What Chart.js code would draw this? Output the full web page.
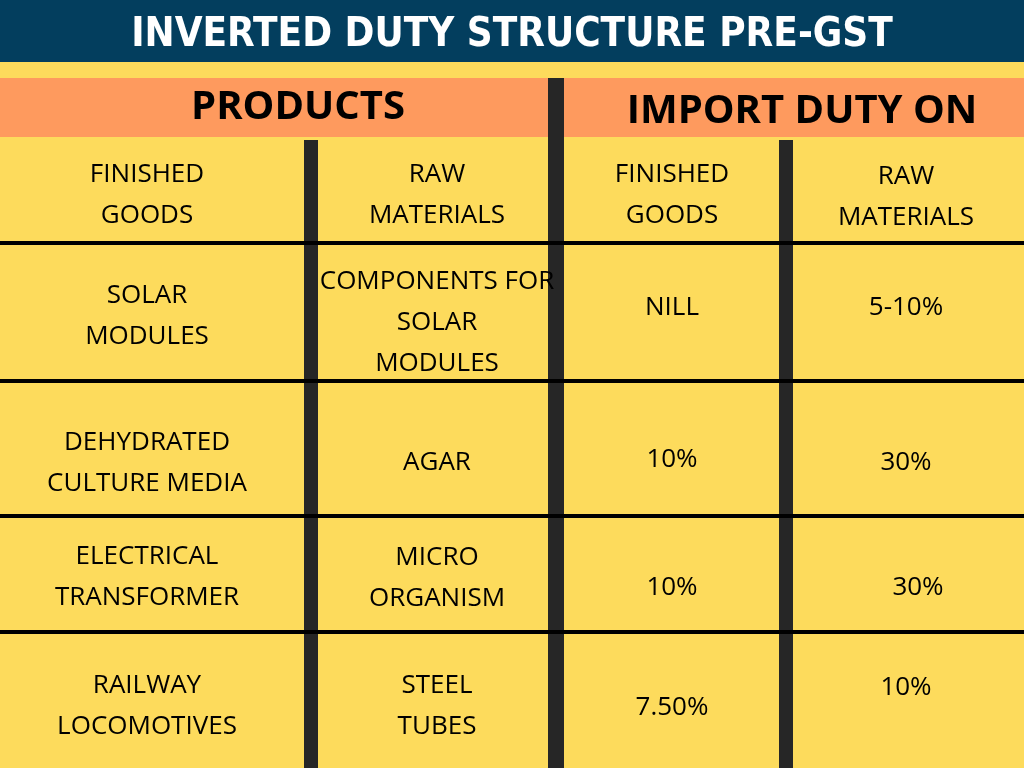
<!DOCTYPE html>
<html><head><meta charset="utf-8">
<script src="https://cdn.jsdelivr.net/npm/chart.js@4"></script>
<style>html,body{margin:0;padding:0;background:#FDDB5C}#w{width:1024px;height:768px}</style>
</head><body><div id="w"><canvas id="c"></canvas></div>
<script>
const title = "INVERTED DUTY STRUCTURE PRE-GST";
const groupHeaders = ["PRODUCTS", "IMPORT DUTY ON"];
const columnHeaders = [["FINISHED","GOODS"],["RAW","MATERIALS"],["FINISHED","GOODS"],["RAW","MATERIALS"]];
const finishedGoods = [["SOLAR","MODULES"],["DEHYDRATED","CULTURE MEDIA"],["ELECTRICAL","TRANSFORMER"],["RAILWAY","LOCOMOTIVES"]];
const rawMaterials = [["COMPONENTS FOR","SOLAR","MODULES"],["AGAR"],["MICRO","ORGANISM"],["STEEL","TUBES"]];
const dutyFinished = ["NILL","10%","10%","7.50%"];
const dutyRaw = ["5-10%","30%","30%","10%"];

// layout (pixel-space scale 0..1024 x 0..768)
const colEdges=[0,311,556,786,1024];
const rowEdges=[140,243,381,516,632,768];
const colCenters=[147,437,672,906];
const dutyY=[[308,308],[460,463],[588,588],[708,688]];

const tablePlugin={id:'tbl',beforeDraw(ch){
  const c=ch.ctx,X=ch.scales.x,Y=ch.scales.y;
  const px=v=>X.getPixelForValue(v), py=v=>Y.getPixelForValue(v);
  c.save();
  c.fillStyle='#FDDB5C';c.fillRect(0,0,ch.width,ch.height);
  c.fillStyle='#033E5E';c.fillRect(px(0),py(0),px(1024)-px(0),py(62)-py(0));
  c.fillStyle='#FE9A5E';c.fillRect(px(0),py(78),px(1024)-px(0),py(137)-py(78));
  // dividers
  c.fillStyle='#262626';
  c.fillRect(px(548),py(78),16,py(768)-py(78));
  c.fillRect(px(304),py(140),14,py(768)-py(140));
  c.fillRect(px(779),py(140),14,py(768)-py(140));
  c.fillStyle='#000';
  for(let i=1;i<5;i++)c.fillRect(px(0),py(rowEdges[i])-2,px(1024),4);
  c.textAlign='center';c.textBaseline='middle';
  c.fillStyle='#fff';c.font='bold 40px "DejaVu Sans Condensed", "Liberation Sans Narrow", sans-serif';
  c.fillText(title,px(512),py(36));
  c.fillStyle='#000';c.font='bold 40px "Open Sans"';
  c.fillText(groupHeaders[0],px(298),py(108));
  c.fillText(groupHeaders[1],px(802),py(112));
  c.font='26px "Open Sans"';
  const lines=(arr,x,yc)=>{const n=arr.length;arr.forEach((t,i)=>c.fillText(t,px(x),py(yc+(i-(n-1)/2)*41)));};
  columnHeaders.forEach((h,i)=>lines(h,colCenters[i],i==3?197:195));
  const rowMid=[316,463,577,706];
  finishedGoods.forEach((r,i)=>lines(r,colCenters[0],rowMid[i]));
  const rawMid=[323,463,578,706];
  rawMaterials.forEach((r,i)=>lines(r,colCenters[1],rawMid[i]));
  dutyFinished.forEach((t,i)=>c.fillText(t,px(colCenters[2]),py(dutyY[i][0])));
  dutyRaw.forEach((t,i)=>c.fillText(t,px(colCenters[3]+(i==2?12:0)),py(dutyY[i][1])));
  c.restore();
}};
new Chart(document.getElementById('c'),{type:'scatter',
 data:{datasets:[{data:[],pointRadius:0}]},
 options:{responsive:true,maintainAspectRatio:false,animation:false,
  layout:{padding:0},
  plugins:{legend:{display:false},tooltip:{enabled:false}},
  scales:{x:{type:'linear',min:0,max:1024,display:false},
          y:{type:'linear',min:0,max:768,reverse:true,display:false}}},
 plugins:[tablePlugin]});
</script></body></html>
